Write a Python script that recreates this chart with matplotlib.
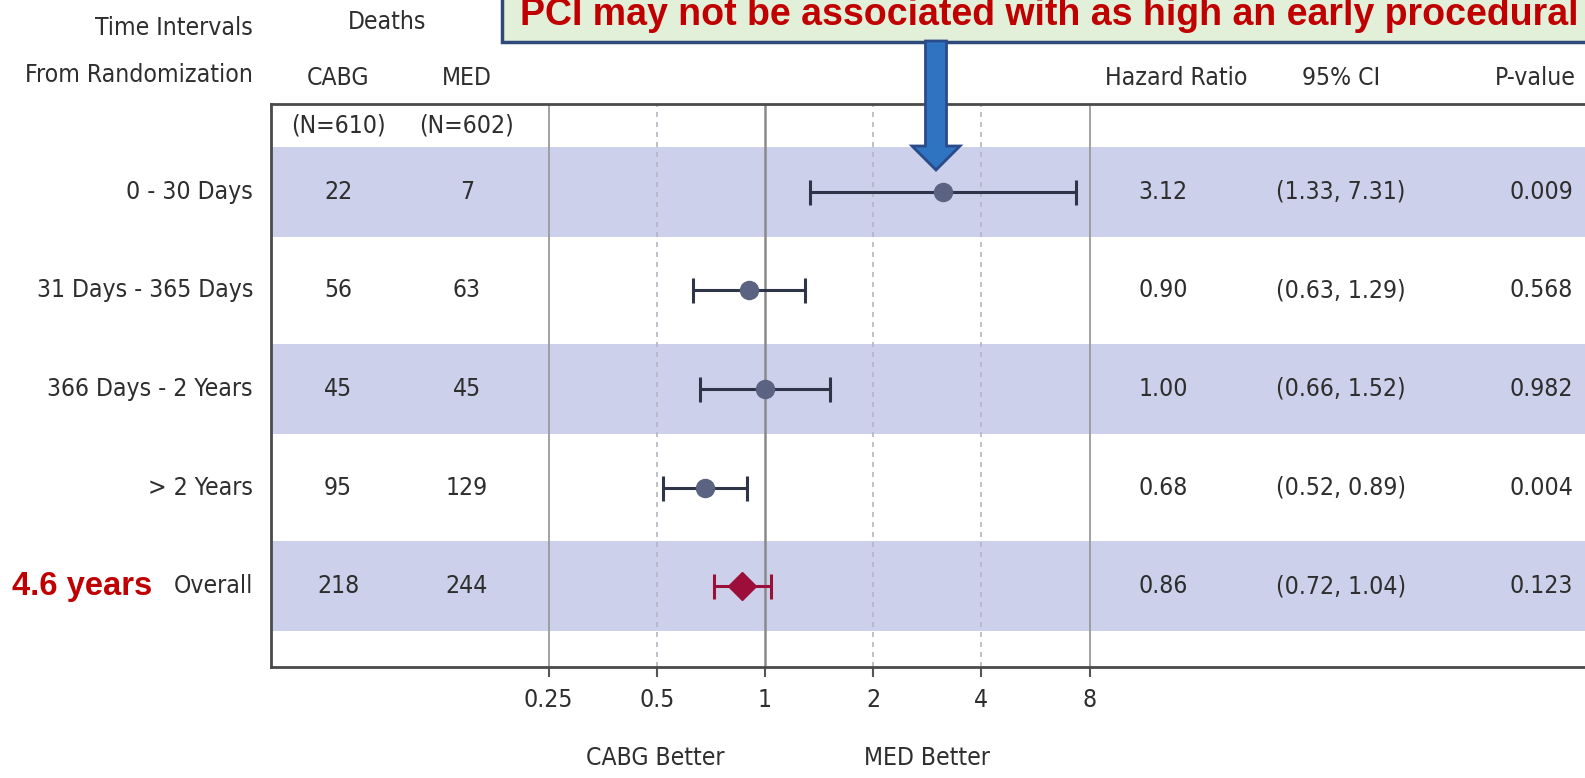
import matplotlib
matplotlib.use('Agg')
import matplotlib.pyplot as plt
from matplotlib import font_manager
from matplotlib.font_manager import FontProperties
from matplotlib.patches import Rectangle, FancyArrow
from matplotlib.ticker import NullLocator
from matplotlib.transforms import blended_transform_factory

# data
intervals = ['0 - 30 Days', '31 Days - 365 Days', '366 Days - 2 Years', '> 2 Years', 'Overall']
deaths_cabg = [22, 56, 45, 95, 218]
deaths_med = [7, 63, 45, 129, 244]
hr = [3.12, 0.90, 1.00, 0.68, 0.86]
ci_low = [1.33, 0.63, 0.66, 0.52, 0.72]
ci_high = [7.31, 1.29, 1.52, 0.89, 1.04]
p_values = ['0.009', '0.568', '0.982', '0.004', '0.123']
ticks = [0.25, 0.5, 1, 2, 4, 8]
tick_labels = ['0.25', '0.5', '1', '2', '4', '8']
dashed_ticks = [0.5, 2, 4]
solid_ticks = [0.25, 8]
callout = 'PCI may not be associated with as high an early procedural'

TXT = '#2e2e2e'
BAND = '#cdd0ea'
RED = '#c00000'
W, H = 1585, 778

# the original uses a condensed sans, take one if there is any
narrow = [f for f in font_manager.fontManager.ttflist
          if ('Narrow' in f.name or 'Condensed' in f.name or 'condensed' in str(f.stretch))
          and f.style == 'normal' and str(f.weight) in ('400', 'normal', 'regular', 'book')]
if narrow:
    FP = FontProperties(fname=narrow[0].fname)
else:
    FP = FontProperties(family=['Roboto', 'DejaVu Sans'])
FPB = FontProperties(family=['Liberation Sans', 'DejaVu Sans'], weight='bold')

fig = plt.figure(figsize=(W / 100, H / 100), dpi=100)
fig.patch.set_facecolor('white')
renderer = fig.canvas.get_renderer()


def fit_size(text, target_px, fp, base=20.0):
    t = fig.text(0, 0, text, fontproperties=fp, fontsize=base)
    w = t.get_window_extent(renderer=renderer).width
    t.remove()
    return base * target_px / w


fs = min(fit_size('31 Days - 365 Days', 217, FP), 23)
fs_red = fit_size('4.6 years', 140, FPB)
fs_call = fit_size(callout, 1058, FPB)

# forest axes = the framed box
ax = fig.add_axes([271 / W, 1 - 667 / H, 1 - 271 / W, (667 - 104) / H])
ax.set_xscale('log', base=2)
ax.set_xlim(2 ** -4.566, 2 ** 7.578)
ax.set_ylim(4.822, -0.893)
ax.xaxis.set_minor_locator(NullLocator())
ax.set_yticks([])
ax.set_xticks(ticks)
ax.set_xticklabels(tick_labels, fontproperties=FP, fontsize=fs, color=TXT)
ax.tick_params(axis='x', length=7, width=1.5, color='#555555', pad=8)
for s in ['left', 'bottom', 'top']:
    ax.spines[s].set_color('#4a4a4a')
    ax.spines[s].set_linewidth(2)
ax.spines['right'].set_visible(False)

# shaded rows
for i in range(0, len(intervals), 2):
    ax.axhspan(i - 0.46, i + 0.46, color=BAND, zorder=0, lw=0)

# reference lines
for t in solid_ticks:
    ax.axvline(t, color='#9a9a9a', lw=1.3, zorder=1)
for t in dashed_ticks:
    ax.axvline(t, color='#b5b5c5', lw=1.2, ls=(0, (3, 3)), zorder=1)
ax.axvline(1, color='#8a8a8a', lw=1.8, zorder=1)

# estimates
for i in range(len(intervals)):
    overall = intervals[i] == 'Overall'
    col = '#9c0f3a' if overall else '#2f3548'
    mcol = '#9c0f3a' if overall else '#5b6382'
    ax.errorbar(hr[i], i, xerr=[[hr[i] - ci_low[i]], [ci_high[i] - hr[i]]],
                fmt='D' if overall else 'o', ms=14 if overall else 13,
                color=mcol, ecolor=col, elinewidth=2.2, capsize=9, capthick=2.2,
                mec=mcol, zorder=3)

# table text
tr = blended_transform_factory(ax.transAxes, ax.transData)
col_label, col_cabg, col_med = -0.0137, 0.051, 0.149
col_hr, col_ci, col_p = 0.679, 0.814, 0.967
kw = dict(transform=tr, va='center', fontproperties=FP, fontsize=fs, color=TXT, clip_on=False)
for i, name in enumerate(intervals):
    ax.text(col_label, i, name, ha='right', **kw)
    ax.text(col_cabg, i, str(deaths_cabg[i]), ha='center', **kw)
    ax.text(col_med, i, str(deaths_med[i]), ha='center', **kw)
    ax.text(col_hr, i, f'{hr[i]:.2f}', ha='center', **kw)
    ax.text(col_ci, i, f'({ci_low[i]:.2f}, {ci_high[i]:.2f})', ha='center', **kw)
    ax.text(col_p, i, p_values[i], ha='center', **kw)

ax.text(col_cabg, -0.67, '(N=610)', ha='center', **kw)
ax.text(col_med, -0.67, '(N=602)', ha='center', **kw)

# headers above the box
ax.text(col_label, -1.665, 'Time Intervals', ha='right', **kw)
ax.text(col_label, -1.19, 'From Randomization', ha='right', **kw)
ax.text(0.088, -1.73, 'Deaths', ha='center', **kw)
ax.text(col_cabg, -1.16, 'CABG', ha='center', **kw)
ax.text(col_med, -1.16, 'MED', ha='center', **kw)
ax.text(0.689, -1.16, 'Hazard Ratio', ha='center', **kw)
ax.text(col_ci, -1.16, '95% CI', ha='center', **kw)
ax.text(0.962, -1.16, 'P-value', ha='center', **kw)

ax.text(-0.197, 4, '4.6 years', transform=tr, ha='left', va='center', fontproperties=FPB,
        fontsize=fs_red, color=RED, clip_on=False)

# favour labels
ax.text(0.494, 5.75, 'CABG Better', ha='center', va='center', fontproperties=FP, fontsize=fs, color=TXT, clip_on=False)
ax.text(2.82, 5.75, 'MED Better', ha='center', va='center', fontproperties=FP, fontsize=fs, color=TXT, clip_on=False)

# callout overlay in pixel coordinates
ov = fig.add_axes([0, 0, 1, 1])
ov.set_xlim(0, W)
ov.set_ylim(H, 0)
ov.axis('off')
ov.patch.set_alpha(0)
ov.add_patch(Rectangle((502, -10), 1200, 52, facecolor='#e2efd9', edgecolor='#2f4a7a', lw=2.5, zorder=5))
ov.text(520, 15, callout, ha='left', va='center', fontproperties=FPB, fontsize=fs_call,
        color=RED, zorder=6)
ov.add_patch(FancyArrow(936, 41, 0, 129, width=21, head_width=48, head_length=24,
                        length_includes_head=True, facecolor='#2e74c0', edgecolor='#2a4a8a', lw=2, zorder=6))

fig.savefig('out.png', dpi=100)
